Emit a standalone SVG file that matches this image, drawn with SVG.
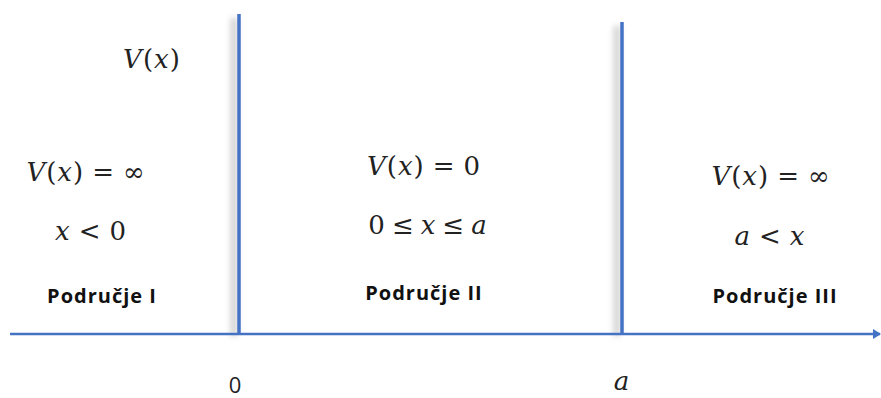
<svg xmlns="http://www.w3.org/2000/svg" width="881" height="398" viewBox="0 0 881 398">
<defs>
<style>
.m{font-family:"DejaVu Serif","Liberation Serif",serif;font-size:26px;fill:#222;text-anchor:middle;letter-spacing:1px}
.i{font-style:italic}
.b{font-family:"Open Sans","Noto Sans",sans-serif;font-weight:bold;font-size:20px;fill:#111;text-anchor:middle;letter-spacing:1px}
.n{font-family:"Open Sans","Noto Sans",sans-serif;font-size:22px;fill:#222;text-anchor:middle}
.ax{stroke:#4472C4;fill:none}
</style>
<filter id="sh" x="-5" y="-0.1" width="10" height="1.2"><feGaussianBlur stdDeviation="3"/></filter>
<marker id="ar" markerWidth="8" markerHeight="10" refX="7" refY="5" orient="auto" markerUnits="userSpaceOnUse"><path d="M0,0 L8,5 L0,10 z" fill="#4472C4"/></marker>
</defs>
<g id="connectors">
<rect x="231" y="18" width="6" height="318" fill="#999" opacity="0.5" filter="url(#sh)"/>
<rect x="614" y="26" width="6" height="310" fill="#999" opacity="0.5" filter="url(#sh)"/>
<line class="ax" x1="10" y1="334" x2="880" y2="334" stroke-width="2.5" marker-end="url(#ar)"/>
<line class="ax" x1="239" y1="14" x2="239" y2="334" stroke-width="3.5"/>
<line class="ax" x1="622" y1="22" x2="622" y2="334" stroke-width="3.5"/>
</g>
<g id="region1">
<text class="m" x="152" y="68"><tspan class="i">V</tspan>(<tspan class="i">x</tspan>)</text>
<text class="m" x="86" y="181"><tspan class="i">V</tspan>(<tspan class="i">x</tspan>)<tspan dx="8">=</tspan><tspan dx="8">∞</tspan></text>
<text class="m" x="91" y="240"><tspan class="i">x</tspan><tspan dx="8">&lt;</tspan><tspan dx="8">0</tspan></text>
<text class="b" x="102" y="303">Područje I</text>
</g>
<g id="region2">
<text class="m" x="424" y="175"><tspan class="i">V</tspan>(<tspan class="i">x</tspan>)<tspan dx="8">=</tspan><tspan dx="8">0</tspan></text>
<text class="m" x="428" y="234">0<tspan dx="6">≤</tspan><tspan class="i" dx="6">x</tspan><tspan dx="6">≤</tspan><tspan class="i" dx="6">a</tspan></text>
<text class="b" x="424" y="300">Područje II</text>
</g>
<g id="region3">
<text class="m" x="771" y="185"><tspan class="i">V</tspan>(<tspan class="i">x</tspan>)<tspan dx="8">=</tspan><tspan dx="8">∞</tspan></text>
<text class="m" x="770" y="245"><tspan class="i">a</tspan><tspan dx="8">&lt;</tspan><tspan class="i" dx="8">x</tspan></text>
<text class="b" x="775" y="303">Područje III</text>
</g>
<g id="ticks">
<text class="n" x="235" y="393">0</text>
<text class="m i" x="622" y="390">a</text>
</g>
</svg>
